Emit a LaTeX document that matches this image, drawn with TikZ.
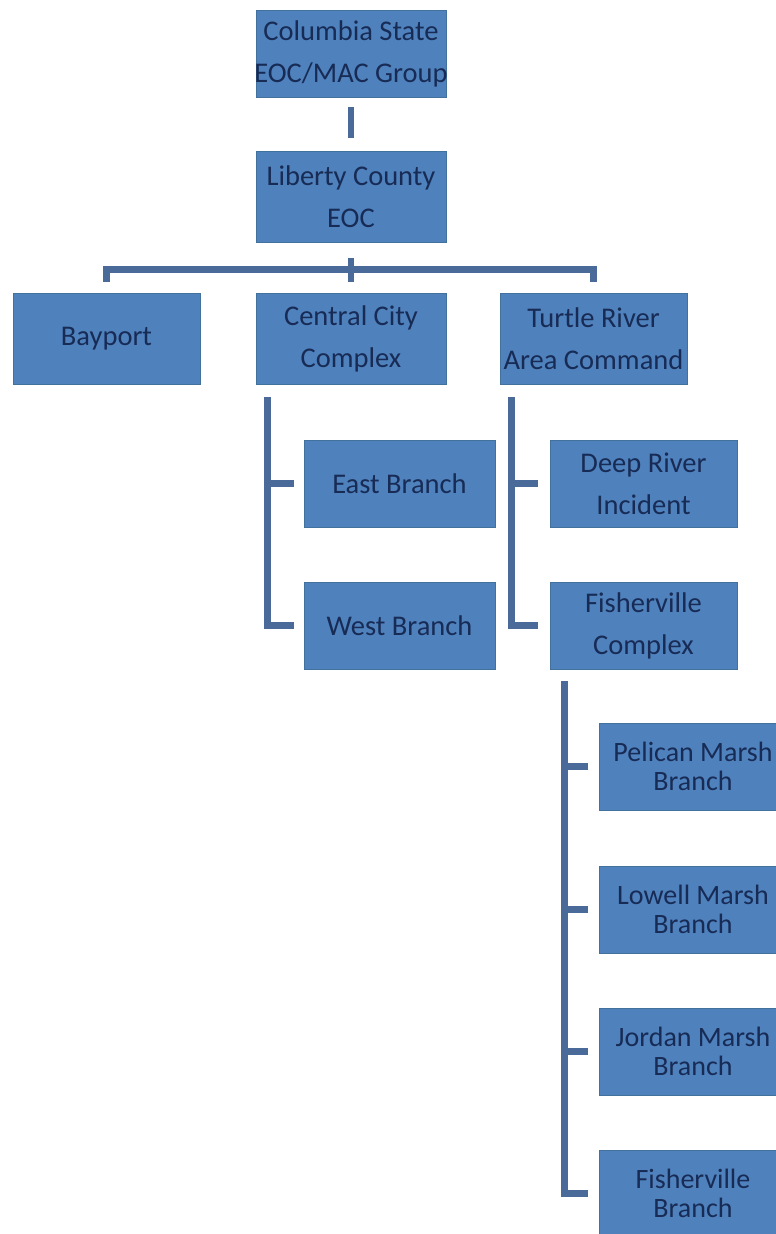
\documentclass[tikz,border=0pt]{standalone}
\usepackage{fontspec}
\setmainfont{Carlito}
\definecolor{boxfill}{HTML}{4F81BD}
\definecolor{boxline}{HTML}{41719C}
\definecolor{connc}{HTML}{4A6A9A}
\definecolor{txtc}{HTML}{172B55}
\newcommand{\fitline}[1]{\makebox[170pt]{#1}}
\begin{document}
\begin{tikzpicture}[x=1pt,y=-1pt,
  box/.style={draw=boxline, line width=0.8pt, fill=boxfill, text=txtc, align=center,
    inner sep=0pt, font=\fontsize{28.5}{42}\selectfont},
  smallbox/.style={box, font=\fontsize{28}{29}\selectfont},
  conn/.style={draw=connc, line width=6.5pt}]
\useasboundingbox (0,0) rectangle (776,1234);
\fill[white] (0,0) rectangle (776,1234);
% level 0 and 1
\node[box, minimum width=190pt, minimum height=87pt] (top) at (351,53.5) {\fitline{Columbia State}\\\fitline{EOC/MAC Group}};
\node[box, minimum width=190pt, minimum height=91pt] (lib) at (351,196.5) {Liberty County\\EOC};
% level 2
\node[box, minimum width=187pt, minimum height=91pt] (bay) at (106.5,338.5) {Bayport};
\node[box, minimum width=190pt, minimum height=91pt] (cen) at (351,338.5) {Central City\\Complex};
\node[box, minimum width=187pt, minimum height=91pt] (tur) at (593.5,338.5) {\fitline{Turtle River}\\\fitline{Area Command}};
% level 3
\node[box, minimum width=191pt, minimum height=87pt] (east) at (399.5,483.5) {East Branch};
\node[box, minimum width=191pt, minimum height=87pt] (west) at (399.5,625.5) {West Branch};
\node[box, minimum width=187pt, minimum height=87pt] (deep) at (643.5,483.5) {Deep River\\Incident};
\node[box, minimum width=187pt, minimum height=87pt] (fcx) at (643.5,625.5) {Fisherville\\Complex};
% level 4
\node[smallbox, minimum width=188pt, minimum height=87pt] (pel) at (693,766.5) {Pelican Marsh\\Branch};
\node[smallbox, minimum width=188pt, minimum height=87pt] (low) at (693,909.5) {Lowell Marsh\\Branch};
\node[smallbox, minimum width=188pt, minimum height=87pt] (jor) at (693,1051.5) {Jordan Marsh\\Branch};
\node[smallbox, minimum width=188pt, minimum height=87pt] (fbr) at (693,1193.5) {Fisherville\\Branch};
% connectors
\draw[conn] ([yshift=-10pt]top.south) -- ([yshift=13pt]lib.north);
\draw[conn] ([yshift=-16pt]lib.south) -- ([yshift=11pt]cen.north);
\draw[conn] ([yshift=11pt]bay.north) -- ([yshift=23pt]bay.north) -- ([yshift=23pt]tur.north) -- ([yshift=11pt]tur.north);
% Central City bracket
\draw[conn] ([xshift=12pt,yshift=-13pt]cen.south west) |- ([xshift=-10pt]west.west);
\draw[conn] ([xshift=-10pt]east.west) -- ([xshift=-36pt]east.west);
% Turtle River bracket
\draw[conn] ([xshift=12pt,yshift=-13pt]tur.south west) |- ([xshift=-12pt]fcx.west);
\draw[conn] ([xshift=-12pt]deep.west) -- ([xshift=-38pt]deep.west);
% Fisherville bracket
\draw[conn] ([xshift=15pt,yshift=-12pt]fcx.south west) |- ([xshift=-11pt]fbr.west);
\draw[conn] ([xshift=-11pt]pel.west) -- ([xshift=-34pt]pel.west);
\draw[conn] ([xshift=-11pt]low.west) -- ([xshift=-34pt]low.west);
\draw[conn] ([xshift=-11pt]jor.west) -- ([xshift=-34pt]jor.west);
\end{tikzpicture}
\end{document}
